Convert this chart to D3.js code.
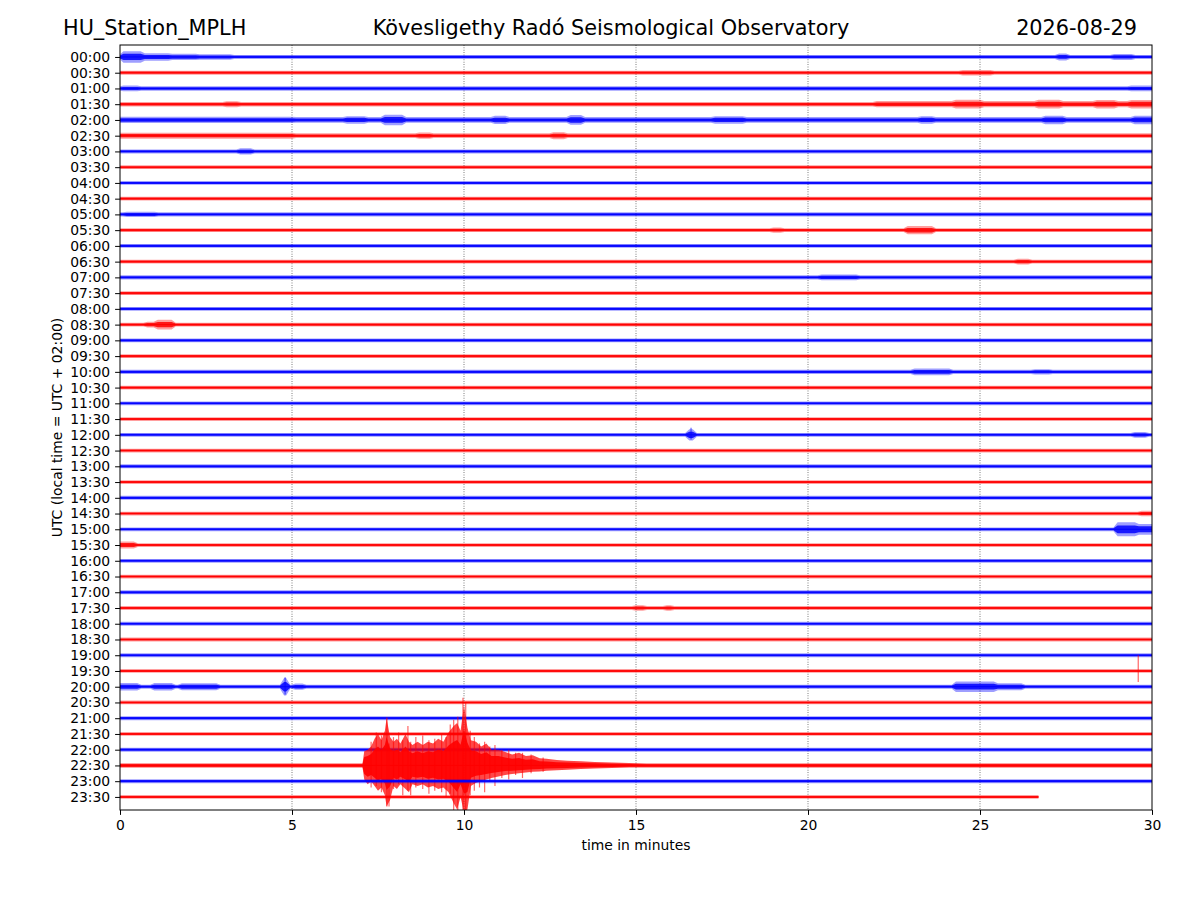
<!DOCTYPE html>
<html lang="en">
<head>
<meta charset="utf-8">
<title>HU_Station_MPLH helicorder</title>
<script src="https://d3js.org/d3.v7.min.js"></script>
<style>
  body { margin: 0; background: #fff; }
  text { font-family: "DejaVu Sans", sans-serif; fill: #000; }
</style>
</head>
<body>
<script>
// ---- data ----
var stationName = "HU_Station_MPLH";
var observatory = "Kövesligethy Radó Seismological Observatory";
var dayLabel = "2026-08-29";

var rowLabels = ["00:00","00:30","01:00","01:30","02:00","02:30","03:00","03:30",
  "04:00","04:30","05:00","05:30","06:00","06:30","07:00","07:30",
  "08:00","08:30","09:00","09:30","10:00","10:30","11:00","11:30",
  "12:00","12:30","13:00","13:30","14:00","14:30","15:00","15:30",
  "16:00","16:30","17:00","17:30","18:00","18:30","19:00","19:30",
  "20:00","20:30","21:00","21:30","22:00","22:30","23:00","23:30"];

// background noise half-width of every trace (units of one row spacing)
var baseAmp = [0.13,0.13,0.14,0.14,0.18,0.15,0.13,0.12,
  0.12,0.12,0.13,0.12,0.12,0.12,0.13,0.12,
  0.12,0.12,0.12,0.12,0.13,0.12,0.12,0.12,
  0.12,0.12,0.13,0.12,0.13,0.12,0.12,0.12,
  0.12,0.12,0.13,0.12,0.12,0.12,0.12,0.12,
  0.13,0.12,0.13,0.12,0.13,0.13,0.13,0.12];

// minute where each trace stops
var traceEnd = [30,30,30,30,30,30,30,30,30,30,30,30,30,30,30,30,
  30,30,30,30,30,30,30,30,30,30,30,30,30,30,30,30,
  30,30,30,30,30,30,30,30,30,30,30,30,30,30,30,26.7];

// noise bursts: [row, start minute, end minute, half-width]
var bursts = [
  [0,0.1,0.6,0.36],[0,0.6,1.4,0.24],[0,1.4,2.2,0.2],[0,2.2,3.2,0.17],[0,27.3,27.5,0.22],[0,28.9,29.4,0.19],
  [1,24.5,25.3,0.17],[2,0.1,0.5,0.18],[2,29.4,30,0.18],
  [3,22.0,30.0,0.2],[3,24.3,25.0,0.28],[3,26.7,27.3,0.28],[3,28.4,28.9,0.27],[3,29.4,30.0,0.27],[3,3.1,3.4,0.19],
  [4,0.0,5.0,0.2],[4,6.6,7.1,0.24],[4,7.7,8.2,0.33],[4,10.9,11.2,0.26],[4,13.1,13.4,0.31],
  [4,17.3,18.1,0.24],[4,23.3,23.6,0.24],[4,26.9,27.4,0.27],[4,29.5,30.0,0.27],
  [5,0.0,5.0,0.19],[5,12.6,12.9,0.22],[5,8.7,9.0,0.2],
  [6,3.5,3.8,0.2],[10,0.2,1.0,0.17],
  [11,22.9,23.6,0.26],[11,19.0,19.2,0.17],
  [13,26.1,26.4,0.18],[14,20.4,21.4,0.18],
  [17,1.1,1.5,0.31],[17,0.8,1.1,0.18],
  [20,23.1,24.1,0.22],[20,26.6,27.0,0.17],
  [24,16.55,16.65,0.36],[24,29.5,29.8,0.18],[29,29.7,30,0.17],
  [30,29.0,29.5,0.45],[30,29.5,30.0,0.34],[31,0.0,0.4,0.22],
  [35,15.0,15.2,0.18],[35,15.9,16.0,0.18],
  [40,0.0,0.5,0.24],[40,1.0,1.5,0.24],[40,1.8,2.8,0.22],[40,4.77,4.83,0.55],[40,5.1,5.3,0.2],
  [40,24.3,25.4,0.33],[40,25.4,26.2,0.22]
];

// sharp single spikes: [row, minute, up, down]
var spikes = [[39,29.6,1.0,0.7],[40,4.8,0.6,0.5],[24,16.6,0.45,0.3]];

// the regional earthquake on the 22:30 trace
var quakeRow = 45;
// envelope: [minute, up, down]
var quakeEnvelope = [
  [7.05,0.12,0.12],[7.1,0.9,0.9],[7.2,1.0,1.2],[7.3,1.2,1.0],[7.4,1.7,1.3],[7.5,2.0,1.6],
  [7.6,1.6,1.4],[7.7,2.2,1.9],[7.75,3.0,2.6],[7.85,1.8,2.2],[7.95,1.5,1.3],[8.05,1.7,1.5],
  [8.15,1.4,1.2],[8.3,2.0,1.5],[8.4,1.5,1.7],[8.5,1.3,1.2],[8.65,1.5,1.3],[8.8,1.3,1.2],
  [8.95,1.5,1.4],[9.1,1.4,1.3],[9.25,1.7,1.5],[9.4,1.5,1.4],[9.55,2.1,1.7],[9.7,2.5,2.4],
  [9.8,2.7,2.8],[9.9,2.2,2.0],[10.0,3.8,3.0],[10.1,2.4,2.8],[10.2,1.6,1.3],[10.35,1.5,1.1],
  [10.5,1.2,1.0],[10.65,1.4,0.9],[10.8,1.0,0.8],[11.0,1.0,0.7],[11.2,0.85,0.6],[11.4,0.7,0.55],
  [11.6,0.8,0.5],[11.8,0.6,0.45],[12.0,0.65,0.4],[12.2,0.45,0.38],[12.4,0.42,0.33],[12.7,0.35,0.3],
  [13.0,0.3,0.27],[13.4,0.26,0.22],[13.8,0.22,0.2],[14.3,0.18,0.16],[14.8,0.15,0.13],[15.3,0.12,0.12]
];
// tall spikes inside the earthquake: [minute, up, down]
var quakeSpikes = [
  [7.3,1.5,1.4],[7.45,2.1,1.3],[7.6,1.9,1.7],[7.76,3.05,2.6],[7.82,1.4,2.6],[7.95,1.8,1.5],
  [8.1,2.1,1.2],[8.22,1.6,1.9],[8.37,2.5,1.6],[8.45,1.5,1.9],[8.6,1.8,1.4],[8.8,1.9,1.5],
  [8.98,1.6,1.8],[9.15,1.7,1.6],[9.35,2.0,1.7],[9.48,1.8,2.0],[9.6,2.6,1.8],[9.7,2.9,2.9],
  [9.82,3.1,2.9],[9.97,4.3,3.2],[10.05,4.0,3.2],[10.18,2.2,1.9],[10.3,1.8,1.6],[10.45,1.4,1.4],
  [10.6,1.5,1.7],[10.75,1.2,1.0],[10.9,1.3,1.3],[11.1,1.0,0.8],[11.3,1.0,0.9],[11.5,0.8,0.6],
  [11.7,0.8,0.8],[11.95,0.7,0.5],[12.3,0.5,0.4]
];

var xTicks = [0,5,10,15,20,25,30];
var gridMinutes = [5,10,15,20,25];
var traceColors = ["#0000ff","#ff0000"];

// ---- layout ----
var W = 1200, H = 900;
var plotL = 120, plotR = 1152, plotT = 45, plotB = 810;
var ramp = 0.12;   // minutes a burst takes to grow / fade

var svg = d3.select("body").append("svg")
  .attr("width", W).attr("height", H);

var x = d3.scaleLinear().domain([0, 30]).range([plotL, plotR]);
var y = d3.scaleLinear().domain([-0.76, 47.83]).range([plotT, plotB]);

svg.append("clipPath").attr("id", "plotclip")
  .append("rect").attr("x", plotL).attr("y", plotT)
  .attr("width", plotR - plotL).attr("height", plotB - plotT);

// grid
svg.append("g").selectAll("line").data(gridMinutes).enter().append("line")
  .attr("x1", function(d){ return x(d); }).attr("x2", function(d){ return x(d); })
  .attr("y1", plotT).attr("y2", plotB)
  .attr("stroke", "#000").attr("stroke-width", 0.8)
  .attr("stroke-dasharray", "0.8,1.6").attr("stroke-opacity", 0.8);

// envelope of one trace built from its base noise and bursts
function envelope(row) {
  var end = traceEnd[row];
  var base = baseAmp[row];
  var rb = bursts.filter(function(b){ return b[0] === row; });
  var ts = [0, end];
  rb.forEach(function(b){ ts.push(b[1] - ramp, b[1], b[2], b[2] + ramp); });
  if (row === quakeRow) {
    ts = ts.filter(function(t){ return t < 7.05 || t > 15.3; });
    quakeEnvelope.forEach(function(q){ ts.push(q[0]); });
  }
  ts = ts.filter(function(t){ return t >= 0 && t <= end; }).sort(d3.ascending);
  ts = ts.filter(function(t, i){ return i === 0 || t !== ts[i - 1]; });
  return ts.map(function(t) {
    var up = base, dn = base;
    rb.forEach(function(b){
      var a = base;
      if (t >= b[1] && t <= b[2]) a = b[3];
      else if (t > b[1] - ramp && t < b[1]) a = base + (b[3] - base) * (t - b[1] + ramp) / ramp;
      else if (t > b[2] && t < b[2] + ramp) a = base + (b[3] - base) * (b[2] + ramp - t) / ramp;
      up = Math.max(up, a); dn = Math.max(dn, a);
    });
    if (row === quakeRow) {
      quakeEnvelope.forEach(function(q){ if (q[0] === t) { up = Math.max(up, q[1]); dn = Math.max(dn, q[2]); } });
    }
    return {t: t, up: up, dn: dn};
  });
}

var traces = svg.append("g").attr("clip-path", "url(#plotclip)");

rowLabels.forEach(function(lab, row) {
  var col = traceColors[row % 2];
  var g = traces.append("g");
  var env = envelope(row);
  // outer, fainter part of the trace and its denser core
  var layers = row === quakeRow ? [[1, 0.72], [0.6, 0.9]] : [[1, 0.38], [0.55, 0.85]];
  layers.forEach(function(layer) {
    var k = layer[0];
    var area = d3.area()
      .x(function(d){ return x(d.t); })
      .y0(function(d){ return y(row + d.dn * k); })
      .y1(function(d){ return y(row - d.up * k); });
    g.append("path").datum(env).attr("d", area)
      .attr("fill", col).attr("fill-opacity", layer[1]);
  });
  g.append("line")
    .attr("x1", x(0)).attr("x2", x(traceEnd[row]))
    .attr("y1", y(row)).attr("y2", y(row))
    .attr("stroke", col).attr("stroke-width", 1);
  var sp = spikes.filter(function(s){ return s[0] === row; });
  if (row === quakeRow) sp = sp.concat(quakeSpikes.map(function(q){ return [row, q[0], q[1], q[2]]; }));
  g.selectAll("line.spike").data(sp).enter().append("line").attr("class", "spike")
    .attr("x1", function(s){ return x(s[1]); }).attr("x2", function(s){ return x(s[1]); })
    .attr("y1", function(s){ return y(row - s[2]); })
    .attr("y2", function(s){ return y(row + s[3]); })
    .attr("stroke", col).attr("stroke-width", 1.2).attr("stroke-opacity", 0.6);
});

// frame
svg.append("rect").attr("x", plotL).attr("y", plotT)
  .attr("width", plotR - plotL).attr("height", plotB - plotT)
  .attr("fill", "none").attr("stroke", "#000").attr("stroke-width", 1);

// axes
var yAxis = d3.axisLeft(y).tickValues(d3.range(rowLabels.length))
  .tickFormat(function(i){ return rowLabels[i]; })
  .tickSize(4.9).tickPadding(4.9);
var gy = svg.append("g").attr("transform", "translate(" + plotL + ",0)").call(yAxis);

var xAxis = d3.axisBottom(x).tickValues(xTicks).tickFormat(d3.format("d"))
  .tickSize(4.9).tickPadding(4.9);
var gx = svg.append("g").attr("transform", "translate(0," + plotB + ")").call(xAxis);

[gx, gy].forEach(function(g){
  g.select(".domain").remove();
  g.selectAll("text").style("font-family", "'DejaVu Sans', sans-serif").style("font-size", "13.9px").attr("fill", "#000");
  g.selectAll("line").attr("stroke", "#000").attr("stroke-width", 1);
});

// labels
svg.append("text").attr("x", (plotL + plotR) / 2).attr("y", 850)
  .attr("text-anchor", "middle").style("font-size", "13.9px").text("time in minutes");
svg.append("text").attr("transform", "translate(62," + ((plotT + plotB) / 2) + ") rotate(-90)")
  .attr("text-anchor", "middle").style("font-size", "13.9px").text("UTC (local time = UTC + 02:00)");

// titles
svg.append("text").attr("x", 63).attr("y", 35).style("font-size", "20.8px").text(stationName);
svg.append("text").attr("x", 611).attr("y", 35).attr("text-anchor", "middle").style("font-size", "20.8px").text(observatory);
svg.append("text").attr("x", 1137).attr("y", 35).attr("text-anchor", "end").style("font-size", "20.8px").text(dayLabel);
</script>
</body>
</html>
